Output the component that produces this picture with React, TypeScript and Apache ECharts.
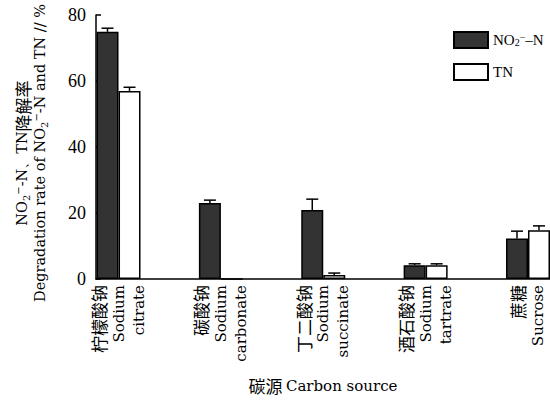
import React, { useEffect, useRef } from "react";
import * as echarts from "echarts";

const categoriesCn = ["柠檬酸钠", "碳酸钠", "丁二酸钠", "酒石酸钠", "蔗糖"];
const categoriesEn = [
  ["Sodium", "citrate"],
  ["Sodium", "carbonate"],
  ["Sodium", "succinate"],
  ["Sodium", "tartrate"],
  ["Sucrose"],
];
const categoryPositions = [0, 1, 2, 3, 4];
const no2Values = [74.9, 23.0, 20.9, 4.2, 12.3];
const no2Errors = [1.1, 0.9, 3.3, 0.4, 2.2];
const tnValues = [57.0, 0, 1.2, 4.2, 14.8];
const tnErrors = [1.1, 0, 0.6, 0.4, 1.3];
const yMin = 0;
const yMax = 80;
const yInterval = 20;

const LAT = "'DejaVu Serif', serif";
const SERIF = "'Liberation Serif', serif";
const CJK = "'Noto Sans CJK SC', sans-serif";

const BAR_W = 22;

function errorSeries(values: number[], errors: number[], offset: number) {
  return {
    type: "custom",
    silent: true,
    clip: false,
    z: 5,
    encode: { x: 0, y: 1 },
    data: values.map((v, i) => [categoryPositions[i], v, errors[i]]),
    renderItem: (params: any, api: any) => {
      const x = api.value(0);
      const v = api.value(1);
      const e = api.value(2);
      if (!e) return { type: "group", children: [] };
      const base = api.coord([x, v]);
      const top = api.coord([x, v + e]);
      const cx = base[0] + offset;
      const style = { stroke: "#000", lineWidth: 1.5 };
      return {
        type: "group",
        children: [
          { type: "line", shape: { x1: cx, y1: base[1], x2: cx, y2: top[1] }, style },
          { type: "line", shape: { x1: cx - 6, y1: top[1], x2: cx + 6, y2: top[1] }, style },
        ],
      };
    },
  };
}

export default function App() {
  const ref = useRef<HTMLDivElement>(null);
  useEffect(() => {
    if (!ref.current) return;
    const chart = echarts.init(ref.current, null, { renderer: "svg" });
    const richCommon = {
      cn: { fontFamily: CJK, fontSize: 17, color: "#000" },
      en: { fontFamily: LAT, fontSize: 15, color: "#000" },
      sub: { fontFamily: LAT, fontSize: 10, color: "#000", verticalAlign: "bottom" },
      sup: { fontFamily: LAT, fontSize: 10, color: "#000", verticalAlign: "top" },
    };
    chart.setOption({
      animation: false,
      backgroundColor: "#fff",
      grid: { left: 96, top: 15, right: 0, bottom: 121, containLabel: false, outerBoundsMode: "none" },
      graphic: [
        {
          type: "text",
          x: 31,
          y: 153,
          rotation: Math.PI / 2,
          style: {
            text:
              "{en|NO}{sub|2}{sup|−}{en|-N、TN}{cn|降解率}\n{en|Degradation rate of NO}{sub|2}{sup|−}{en|-N and TN // %}",
            align: "center",
            verticalAlign: "middle",
            lineHeight: 18,
            fill: "#000",
            rich: {
              cn: { fontFamily: CJK, fontSize: 17, fill: "#000", lineHeight: 18 },
              en: { fontFamily: LAT, fontSize: 14.5, fill: "#000", lineHeight: 18 },
              sub: { fontFamily: LAT, fontSize: 10, fill: "#000", verticalAlign: "bottom", lineHeight: 18 },
              sup: { fontFamily: LAT, fontSize: 10, fill: "#000", verticalAlign: "top", lineHeight: 18 },
            },
          },
        },
      ],
      legend: {
        orient: "vertical",
        left: 448,
        top: 26,
        itemWidth: 34,
        itemHeight: 16,
        itemGap: 14,
        icon: "rect",
        data: ["NO2", "TN"],
        formatter: (name: string) =>
          name === "NO2" ? "{en|NO}{sub|2}{sup|−}{en|–N}" : "{en|TN}",
        textStyle: {
          color: "#000",
          rich: {
            en: { fontFamily: SERIF, fontSize: 15, color: "#000" },
            sub: { fontFamily: SERIF, fontSize: 10, color: "#000", verticalAlign: "bottom" },
            sup: { fontFamily: SERIF, fontSize: 10, color: "#000", verticalAlign: "top" },
          },
        },
      },
      xAxis: {
        type: "value",
        min: -0.22,
        max: 4.215,
        splitLine: { show: false },
        axisTick: { show: false },
        axisLine: { show: true, onZero: false, lineStyle: { color: "#000", width: 1.5 } },
        axisLabel: {
          customValues: categoryPositions,
          rotate: 90,
          margin: 6,
          lineHeight: 20,
          color: "#000",
          formatter: (val: number) => {
            const i = Math.round(val);
            const cn = categoriesCn[i];
            if (cn === undefined) return "";
            return ["{cn|" + cn + "}", ...categoriesEn[i].map((s) => "{en|" + s + "}")].join("\n");
          },
          rich: {
            cn: { fontFamily: CJK, fontSize: 17, color: "#000", lineHeight: 20 },
            en: { fontFamily: LAT, fontSize: 15, color: "#000", lineHeight: 20 },
          },
        },
        name: "{cn|碳源} {en|Carbon source}",
        nameLocation: "middle",
        nameGap: 98,
        nameTextStyle: { rich: richCommon, color: "#000" },
      },
      yAxis: {
        type: "value",
        min: yMin,
        max: yMax,
        interval: yInterval,
        splitLine: { show: false },
        axisLine: { show: true, onZero: false, lineStyle: { color: "#000", width: 1.5 } },
        axisTick: { show: true, inside: true, length: 5, lineStyle: { color: "#000", width: 1.5 } },
        axisLabel: { fontFamily: SERIF, fontSize: 18, color: "#000", margin: 10 },
      },
      series: [
        {
          name: "NO2",
          type: "bar",
          barWidth: BAR_W,
          barGap: "0%",
          itemStyle: { color: "#333333", borderColor: "#000", borderWidth: 1.5 },
          data: no2Values.map((v, i) => [categoryPositions[i], v]),
        },
        {
          name: "TN",
          type: "bar",
          barWidth: BAR_W,
          barGap: "0%",
          itemStyle: { color: "#ffffff", borderColor: "#000", borderWidth: 1.5 },
          data: tnValues.map((v, i) => [categoryPositions[i], v]),
        },
        errorSeries(no2Values, no2Errors, -BAR_W / 2),
        errorSeries(tnValues, tnErrors, BAR_W / 2),
      ],
    });
    return () => chart.dispose();
  }, []);
  return <div ref={ref} style={{ width: 550, height: 400, position: "absolute", left: 0, top: 0 }} />;
}
